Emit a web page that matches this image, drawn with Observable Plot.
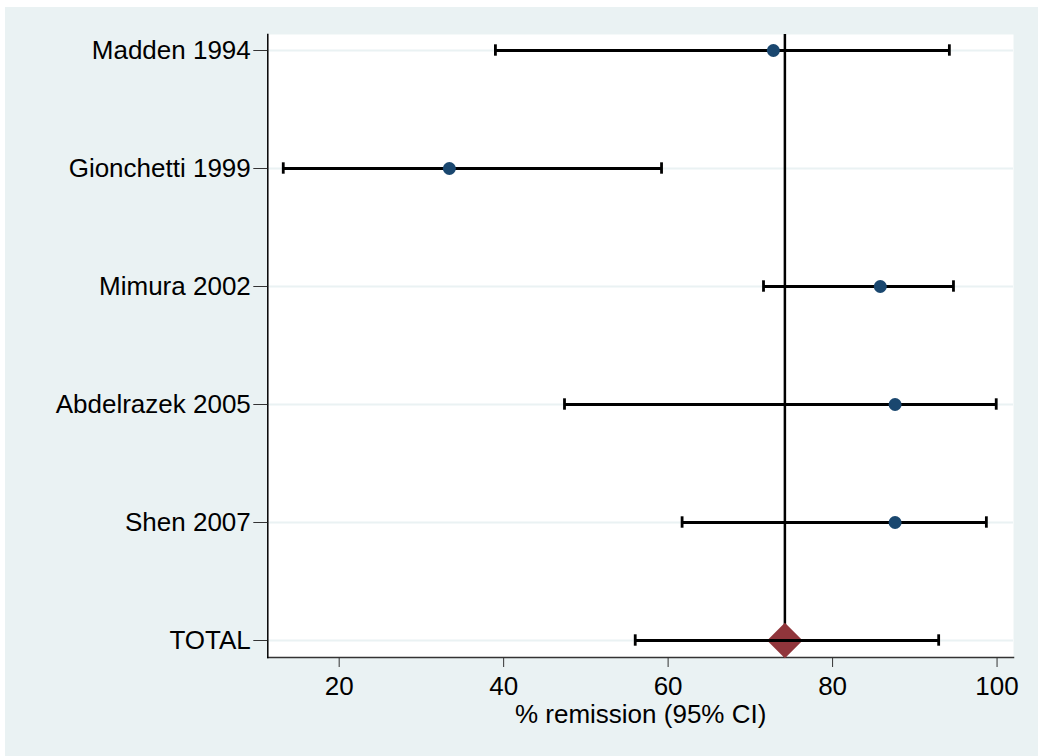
<!DOCTYPE html>
<html>
<head>
<meta charset="utf-8">
<script src="https://cdn.jsdelivr.net/npm/d3@7"></script>
<script src="https://cdn.jsdelivr.net/npm/@observablehq/plot@0.6"></script>
<style>
  html, body { margin: 0; padding: 0; background: #ffffff; }
  #chart { padding-left: 5px; padding-top: 7px; }
  #chart svg { display: block; }
</style>
</head>
<body>
<div id="chart"></div>
<script>
// Data
const studies = ["Madden 1994", "Gionchetti 1999", "Mimura 2002", "Abdelrazek 2005", "Shen 2007", "TOTAL"];
const estimates = [72.8, 33.4, 85.8, 87.6, 87.6, 74.2];
const lowerCI = [39.0, 13.2, 71.6, 47.4, 61.7, 56.0];
const upperCI = [94.2, 59.2, 94.7, 99.9, 98.7, 92.9];
const pooledEstimate = 74.2;
const xTicks = [20, 40, 60, 80, 100];
const xLabel = "% remission (95% CI)";

const rows = studies.map((name, i) => ({name, est: estimates[i], lo: lowerCI[i], hi: upperCI[i]}));
const studyRows = rows.filter(d => d.name !== "TOTAL");
const totalRows = rows.filter(d => d.name === "TOTAL");

const bg = "#eaf2f3";
const font = "'Liberation Sans', Arial, Helvetica, sans-serif";

const chart = Plot.plot({
  width: 1033,
  height: 749,
  marginLeft: 262.3,
  marginRight: 25,
  marginTop: 27,
  marginBottom: 99,
  style: {background: bg, fontFamily: font, color: "#000"},
  x: {domain: [11.32, 102.0], ticks: xTicks},
  y: {type: "point", domain: studies, range: [43.3, 633.3], padding: 0},
  marks: [
    Plot.frame({fill: "white", stroke: null}),
    Plot.ruleY(studies, {y: d => d, stroke: bg, strokeWidth: 2}),
    Plot.frame({anchor: "bottom", stroke: "#333", strokeWidth: 1.5}),
    Plot.frame({anchor: "left", stroke: "#000", strokeWidth: 1.5}),
    Plot.ruleX([pooledEstimate], {stroke: "#000", strokeWidth: 2.5}),
    Plot.dot(totalRows, {x: "est", y: "name", symbol: "diamond2", r: 16, fill: "#90353b", stroke: null}),
    Plot.ruleY(rows, {y: "name", x1: "lo", x2: "hi", stroke: "#000", strokeWidth: 2.8}),
    Plot.ruleX(rows, {x: "lo", y1: "name", y2: "name", stroke: "#000", strokeWidth: 2.8, insetTop: -5.7, insetBottom: -5.7}),
    Plot.ruleX(rows, {x: "hi", y1: "name", y2: "name", stroke: "#000", strokeWidth: 2.8, insetTop: -5.7, insetBottom: -5.7}),
    Plot.dot(studyRows, {x: "est", y: "name", r: 6.5, fill: "#1a476f", stroke: null}),
    Plot.axisY({tickSize: 14, tickPadding: 3, fontSize: 26, stroke: "#333", label: null}),
    Plot.axisX({ticks: xTicks, tickSize: 10, tickPadding: 9, fontSize: 26, stroke: "#333",
      label: xLabel, labelAnchor: "center", labelArrow: "none", labelOffset: 65})
  ]
});
document.getElementById("chart").appendChild(chart);
</script>
</body>
</html>
